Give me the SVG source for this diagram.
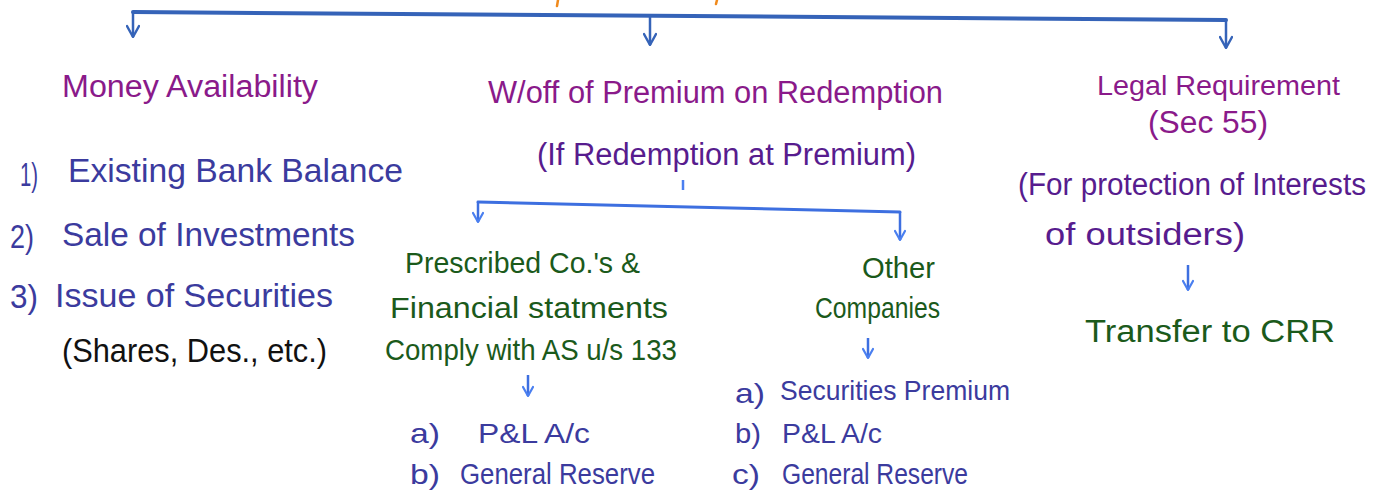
<svg xmlns="http://www.w3.org/2000/svg" width="1379" height="495" viewBox="0 0 1379 495">
<style>
text{font-family:"Liberation Sans","DejaVu Sans",sans-serif;}
.h{fill:#8a1a8a;}
.v{fill:#571c8e;}
.b{fill:#3b3b9e;}
.g{fill:#1b5a1b;}
.k{fill:#111;}
.bar1{stroke:#3563b8;stroke-width:4;fill:none;stroke-linecap:round;}
.drop1{stroke:#3563b8;stroke-width:2.5;fill:none;marker-end:url(#a1);}
.bar2{stroke:#3d6fe0;stroke-width:3;fill:none;stroke-linecap:round;}
.drop2{stroke:#3d6fe0;stroke-width:2.5;fill:none;marker-end:url(#a2);}
</style>
<defs>
<marker id="a1" viewBox="0 0 14 14" refX="13" refY="7" markerWidth="14" markerHeight="14" markerUnits="userSpaceOnUse" orient="auto">
<path d="M2,1 L13,7 L2,13" fill="none" stroke="#3563b8" stroke-width="2.4" stroke-linecap="round" stroke-linejoin="round"/>
</marker>
<marker id="a2" viewBox="0 0 12 12" refX="11" refY="6" markerWidth="12" markerHeight="12" markerUnits="userSpaceOnUse" orient="auto">
<path d="M2,1 L11,6 L2,11" fill="none" stroke="#4a7ff0" stroke-width="2.2" stroke-linecap="round" stroke-linejoin="round"/>
</marker>
</defs>
<rect width="1379" height="495" fill="#fff"/>
<g id="title-fragments" stroke="#f08a1c" stroke-width="2.5" stroke-linecap="round">
<path d="M558,0 L557,6"/>
<path d="M717,0 L716,4"/>
</g>
<g id="connectors">
<path class="bar1" d="M133,12 L1226,20"/>
<path class="drop1" d="M133,12 V37"/>
<path class="drop1" d="M650,16 V45"/>
<path class="drop1" d="M1226,20 V48"/>
<path d="M683,180 V190" stroke="#4a7ff0" stroke-width="2.5"/>
<path class="bar2" d="M478,202 L900,212"/>
<path class="drop2" d="M478,202 V222"/>
<path class="drop2" d="M900,212 V240"/>
<path class="drop2" d="M528,375 V396"/>
<path class="drop2" d="M868,338 V358"/>
<path class="drop2" d="M1188,265 V290"/>
</g>
<g id="money-availability">
<text class="h" x="62" y="97" font-size="31" textLength="256" lengthAdjust="spacingAndGlyphs">Money Availability</text>
</g>
<g id="money-list">
<text class="b" x="20" y="186" font-size="34" textLength="18" lengthAdjust="spacingAndGlyphs">1)</text>
<text class="b" x="68" y="182" font-size="34" textLength="335" lengthAdjust="spacingAndGlyphs">Existing Bank Balance</text>
<text class="b" x="10" y="248" font-size="34" textLength="24" lengthAdjust="spacingAndGlyphs">2)</text>
<text class="b" x="62" y="246" font-size="34" textLength="293" lengthAdjust="spacingAndGlyphs">Sale of Investments</text>
<text class="b" x="10" y="308" font-size="34" textLength="28" lengthAdjust="spacingAndGlyphs">3)</text>
<text class="b" x="55" y="307" font-size="34" textLength="278" lengthAdjust="spacingAndGlyphs">Issue of Securities</text>
<text class="k" x="62" y="362" font-size="34" textLength="265" lengthAdjust="spacingAndGlyphs">(Shares, Des., etc.)</text>
</g>
<g id="write-off">
<text class="h" x="488" y="103" font-size="31" textLength="455" lengthAdjust="spacingAndGlyphs">W/off of Premium on Redemption</text>
<text class="v" x="537" y="165" font-size="31" textLength="379" lengthAdjust="spacingAndGlyphs">(If Redemption at Premium)</text>
</g>
<g id="prescribed">
<text class="g" x="405" y="273" font-size="29" textLength="235" lengthAdjust="spacingAndGlyphs">Prescribed Co.'s &amp;</text>
<text class="g" x="390" y="318" font-size="29" textLength="278" lengthAdjust="spacingAndGlyphs">Financial statments</text>
<text class="g" x="385" y="360" font-size="29" textLength="292" lengthAdjust="spacingAndGlyphs">Comply with AS u/s 133</text>
</g>
<g id="prescribed-list">
<text class="b" x="410" y="443" font-size="28" textLength="30" lengthAdjust="spacingAndGlyphs">a)</text>
<text class="b" x="478" y="443" font-size="28" textLength="112" lengthAdjust="spacingAndGlyphs">P&amp;L A/c</text>
<text class="b" x="410" y="484" font-size="28" textLength="30" lengthAdjust="spacingAndGlyphs">b)</text>
<text class="b" x="460" y="484" font-size="29" textLength="195" lengthAdjust="spacingAndGlyphs">General Reserve</text>
</g>
<g id="other-companies">
<text class="g" x="862" y="278" font-size="29" textLength="73" lengthAdjust="spacingAndGlyphs">Other</text>
<text class="g" x="815" y="318" font-size="30" textLength="125" lengthAdjust="spacingAndGlyphs">Companies</text>
</g>
<g id="other-list">
<text class="b" x="735" y="403" font-size="28" textLength="30" lengthAdjust="spacingAndGlyphs">a)</text>
<text class="b" x="780" y="400" font-size="28" textLength="230" lengthAdjust="spacingAndGlyphs">Securities Premium</text>
<text class="b" x="735" y="443" font-size="28" textLength="26" lengthAdjust="spacingAndGlyphs">b)</text>
<text class="b" x="782" y="443" font-size="28" textLength="100" lengthAdjust="spacingAndGlyphs">P&amp;L A/c</text>
<text class="b" x="732" y="484" font-size="28" textLength="28" lengthAdjust="spacingAndGlyphs">c)</text>
<text class="b" x="782" y="484" font-size="29" textLength="186" lengthAdjust="spacingAndGlyphs">General Reserve</text>
</g>
<g id="legal-requirement">
<text class="h" x="1097" y="95" font-size="27" textLength="243" lengthAdjust="spacingAndGlyphs">Legal Requirement</text>
<text class="h" x="1148" y="133" font-size="31" textLength="120" lengthAdjust="spacingAndGlyphs">(Sec 55)</text>
<text class="v" x="1018" y="195" font-size="31" textLength="348" lengthAdjust="spacingAndGlyphs">(For protection of Interests</text>
<text class="v" x="1045" y="245" font-size="31" textLength="200" lengthAdjust="spacingAndGlyphs">of outsiders)</text>
</g>
<g id="transfer-crr">
<text class="g" x="1085" y="342" font-size="31" textLength="250" lengthAdjust="spacingAndGlyphs">Transfer to CRR</text>
</g>
</svg>
